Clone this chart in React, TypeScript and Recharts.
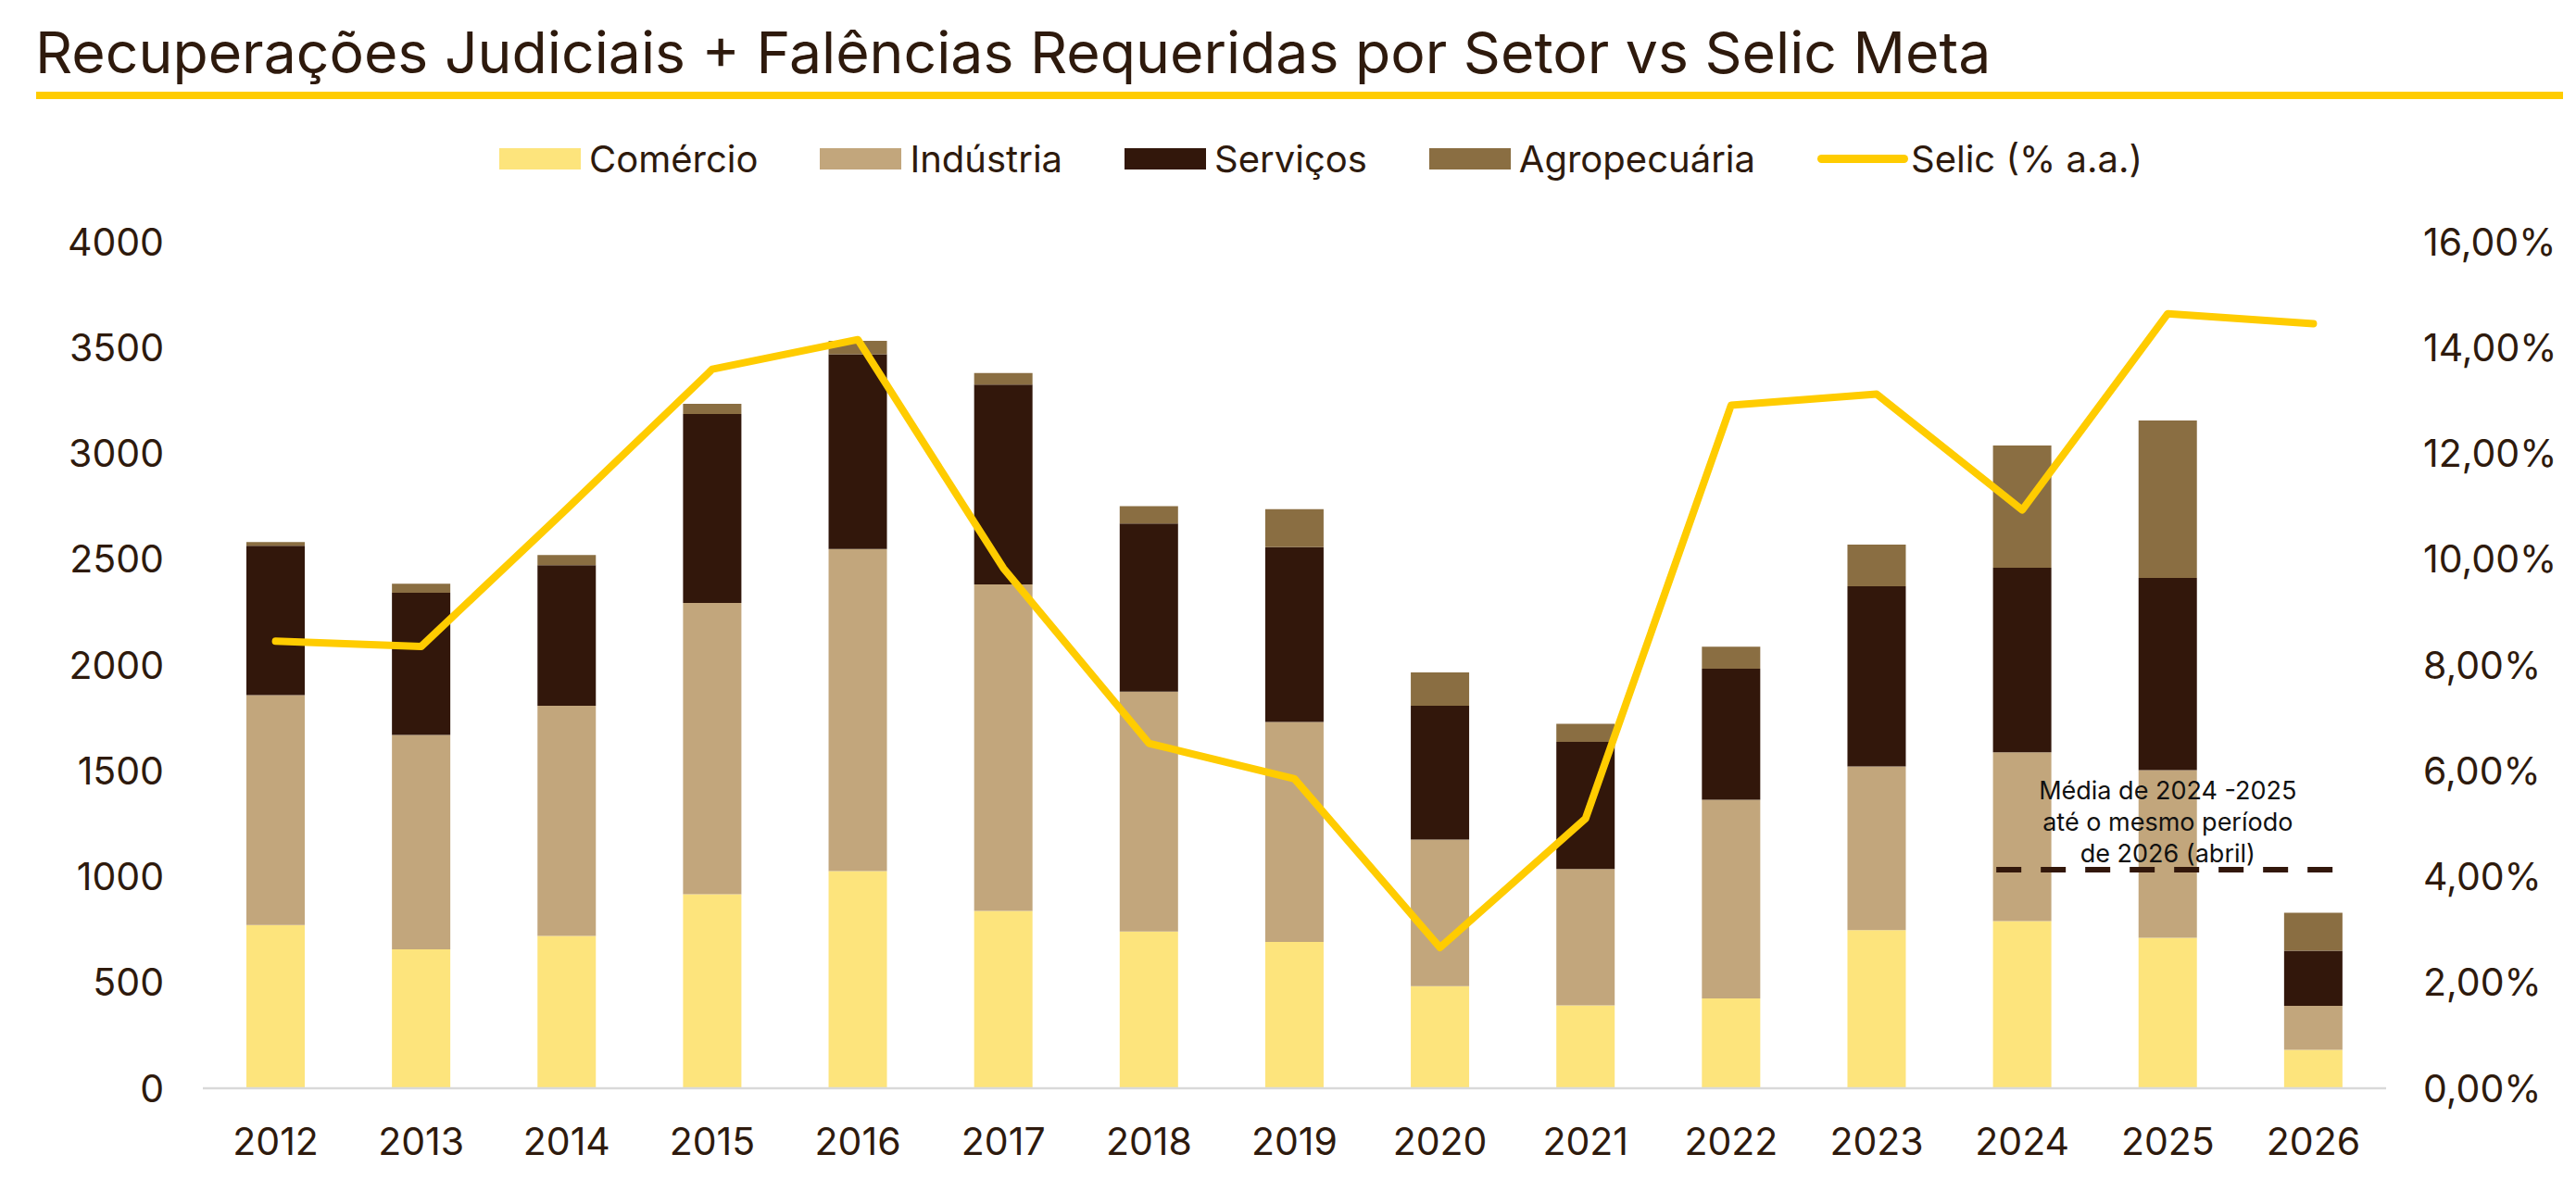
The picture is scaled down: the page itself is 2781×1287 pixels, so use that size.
import React from "react";
import {
  ComposedChart,
  Bar,
  Line,
  XAxis,
  YAxis,
  ReferenceLine,
} from "recharts";

const anos = ["2012", "2013", "2014", "2015", "2016", "2017", "2018", "2019", "2020", "2021", "2022", "2023", "2024", "2025", "2026"];
const comercio = [771, 656, 720, 917, 1026, 838, 741, 692, 483, 392, 425, 747, 790, 711, 182];
const industria = [1087, 1014, 1087, 1376, 1522, 1543, 1133, 1039, 692, 644, 938, 774, 798, 792, 207];
const servicos = [705, 671, 665, 893, 920, 944, 795, 826, 632, 601, 620, 851, 872, 908, 261];
const agropecuaria = [18, 43, 48, 48, 64, 55, 82, 179, 158, 85, 103, 197, 577, 744, 179];
const selic = [8.45, 8.35, 10.95, 13.59, 14.15, 9.83, 6.52, 5.85, 2.66, 5.1, 12.91, 13.12, 10.93, 14.64, 14.45];

const leftTicks = [0, 500, 1000, 1500, 2000, 2500, 3000, 3500, 4000];
const rightTicks = [0, 2, 4, 6, 8, 10, 12, 14, 16];

const mediaValor = 1033;
const mediaTexto = ["Média de 2024 -2025", "até o mesmo período", "de 2026 (abril)"];

const data = anos.map((ano, i) => ({
  ano,
  comercio: comercio[i],
  industria: industria[i],
  servicos: servicos[i],
  agropecuaria: agropecuaria[i],
  selic: selic[i],
}));

const TEXT = "#2E1A0D";
const FONT = "Inter, 'Noto Sans', sans-serif";
const C_COM = "#FDE47C";
const C_IND = "#C2A67C";
const C_SER = "#32170B";
const C_AGR = "#8A6E42";
const C_SEL = "#FFCC00";

const legendItems = [
  { label: "Comércio", color: C_COM, type: "rect" },
  { label: "Indústria", color: C_IND, type: "rect" },
  { label: "Serviços", color: C_SER, type: "rect" },
  { label: "Agropecuária", color: C_AGR, type: "rect" },
  { label: "Selic (% a.a.)", color: C_SEL, type: "line" },
];

const fmtPct = (v: number) => v.toFixed(2).replace(".", ",") + "%";

function MediaLine(p: any) {
  return (
    <line
      x1={p.x1 - 28}
      y1={p.y1}
      x2={p.x2 + 21}
      y2={p.y2}
      stroke={C_SER}
      strokeWidth={6}
      strokeDasharray="27 21"
    />
  );
}

function MediaLabel(p: any) {
  const vb = p.viewBox || {};
  const cx = vb.x + vb.width / 2;
  const y = vb.y;
  return (
    <text x={cx} y={y} textAnchor="middle" fontFamily={FONT} fontSize={27} fill="#111">
      {mediaTexto.map((t, i) => (
        <tspan key={i} x={cx} y={y - 76 + i * 34}>
          {t}
        </tspan>
      ))}
    </text>
  );
}

export default function App() {
  return (
    <div
      style={{
        position: "absolute",
        left: 0,
        top: 0,
        width: 2781,
        height: 1287,
        background: "#fff",
        fontFamily: FONT,
        overflow: "hidden",
      }}
    >
      <div
        style={{
          position: "absolute",
          left: 38,
          top: 21,
          fontSize: 62.5,
          color: TEXT,
          whiteSpace: "nowrap",
          lineHeight: "70px",
        }}
      >
        Recuperações Judiciais + Falências Requeridas por Setor vs Selic Meta
      </div>
      <div style={{ position: "absolute", left: 39, top: 99, width: 2728, height: 8, background: C_SEL }} />

      <div
        style={{
          position: "absolute",
          left: 539,
          top: 148,
          height: 46,
          display: "flex",
          alignItems: "center",
          gap: 67,
          fontSize: 40,
          color: TEXT,
          whiteSpace: "nowrap",
        }}
      >
        {legendItems.map((it) => (
          <div key={it.label} style={{ display: "flex", alignItems: "center" }}>
            {it.type === "rect" ? (
              <div style={{ width: 88, height: 23, background: it.color, marginRight: 9 }} />
            ) : (
              <div style={{ width: 98, height: 9, borderRadius: 5, background: it.color, marginRight: 3 }} />
            )}
            <span>{it.label}</span>
          </div>
        ))}
      </div>

      <div style={{ position: "absolute", left: 0, top: 0 }}>
        <ComposedChart
          width={2781}
          height={1287}
          data={data}
          margin={{ top: 261, right: 0, bottom: 52, left: 0 }}
        >
          <XAxis
            dataKey="ano"
            interval={0}
            height={60}
            tickLine={false}
            tickSize={0}
            tickMargin={43}
            axisLine={{ stroke: "#D9D9D9", strokeWidth: 2.5 }}
            tick={{ fontSize: 41, fill: TEXT, fontFamily: FONT }}
          />
          <YAxis
            yAxisId="left"
            orientation="left"
            width={219}
            domain={[0, 4000]}
            ticks={leftTicks}
            axisLine={false}
            tickLine={false}
            tickSize={0}
            tickMargin={42}
            tick={{ fontSize: 41, fill: TEXT, fontFamily: FONT }}
          />
          <YAxis
            yAxisId="right"
            orientation="right"
            width={205}
            domain={[0, 16]}
            ticks={rightTicks}
            tickFormatter={fmtPct}
            axisLine={false}
            tickLine={false}
            tickSize={0}
            tickMargin={40}
            tick={{ fontSize: 41, fill: TEXT, fontFamily: FONT, textAnchor: "start" }}
          />
          <Bar yAxisId="left" dataKey="comercio" name="Comércio" stackId="s" fill={C_COM} barSize={63} isAnimationActive={false} />
          <Bar yAxisId="left" dataKey="industria" name="Indústria" stackId="s" fill={C_IND} barSize={63} isAnimationActive={false} />
          <Bar yAxisId="left" dataKey="servicos" name="Serviços" stackId="s" fill={C_SER} barSize={63} isAnimationActive={false} />
          <Bar yAxisId="left" dataKey="agropecuaria" name="Agropecuária" stackId="s" fill={C_AGR} barSize={63} isAnimationActive={false} />
          <ReferenceLine
            yAxisId="left"
            segment={[
              { x: "2024", y: mediaValor },
              { x: "2026", y: mediaValor },
            ]}
            shape={MediaLine}
            label={<MediaLabel />}
            ifOverflow="visible"
          />
          <Line
            yAxisId="right"
            type="linear"
            dataKey="selic"
            name="Selic (% a.a.)"
            stroke={C_SEL}
            strokeWidth={8}
            strokeLinecap="round"
            strokeLinejoin="round"
            dot={false}
            activeDot={false}
            isAnimationActive={false}
          />
        </ComposedChart>
      </div>
    </div>
  );
}
